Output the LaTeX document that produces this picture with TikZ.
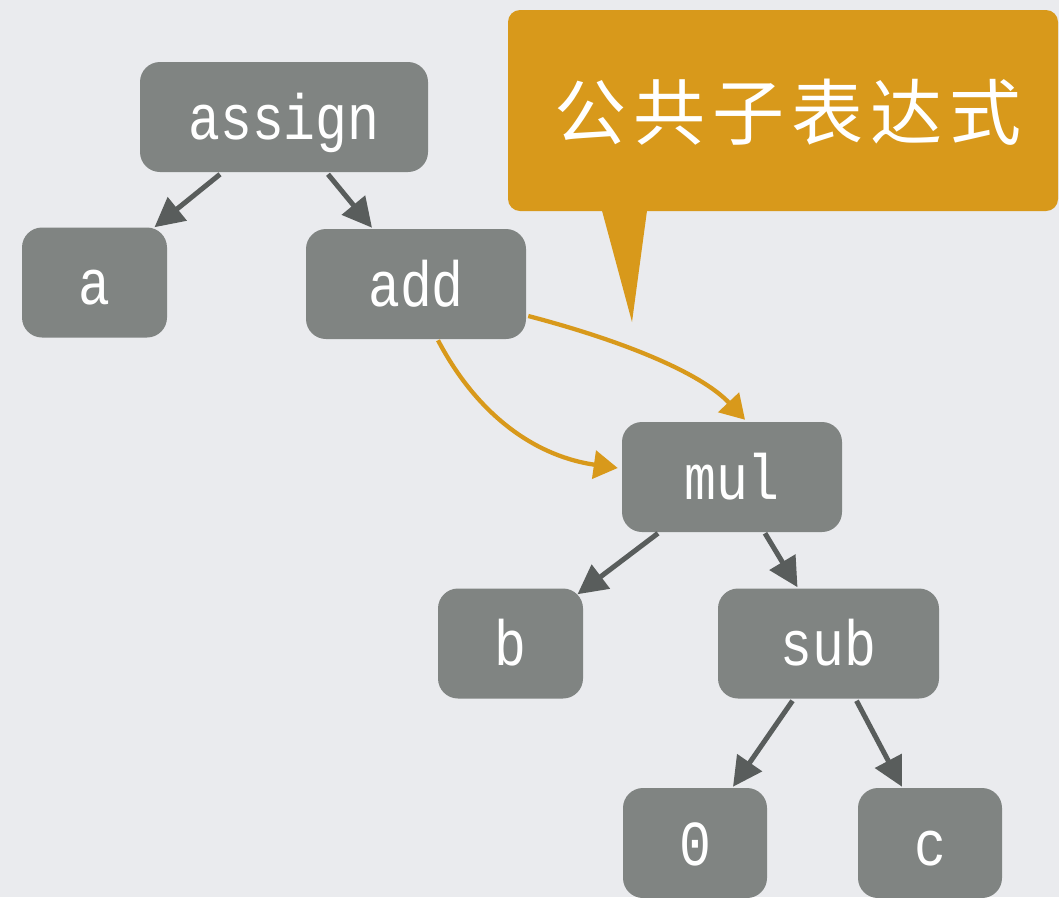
\documentclass[tikz,border=0pt]{standalone}
\usepackage{fontspec}
\setmonofont[FakeStretch=0.83]{Liberation Mono}
\newfontfamily\cjk[LetterSpace=10]{Noto Sans CJK SC}
\usetikzlibrary{arrows.meta,calc}
\definecolor{bgc}{HTML}{EAEBEE}
\definecolor{nodegray}{HTML}{808482}
\definecolor{edgegray}{HTML}{595D5C}
\definecolor{amber}{HTML}{D8991B}
\begin{document}
\begin{tikzpicture}[x=0.75pt,y=-0.75pt,
  tn/.style={fill=nodegray, rounded corners=15pt, text=white,
    font=\ttfamily\fontsize{48}{48}\selectfont,
    minimum height=82.5pt, inner sep=0pt, text height=33pt, text depth=0pt},
  tree/.style={draw=edgegray, line width=3.75pt,
    -{Triangle[length=22pt,width=22pt]}},
  share/.style={draw=amber, line width=3.2pt,
    -{Triangle[length=18pt,width=21pt]}},
  note/.style={fill=amber, rounded corners=9pt,
    minimum width=412.5pt, minimum height=150.75pt, inner sep=0pt}
]
% background
\fill[bgc] (0,0) rectangle (1059,897);
\useasboundingbox (0,0) rectangle (1059,897);

% expression tree
\node[tn, minimum width=216pt]   (assign) at (284,117)   {assign};
\node[tn, minimum width=108.75pt](a)      at (94.5,282.5){a};
\node[tn, minimum width=165pt]   (add)    at (416,284)   {add};
\node[tn, minimum width=165pt]   (mul)    at (732,477)   {mul};
\node[tn, minimum width=108.75pt](b)      at (510.5,643.5){b};
\node[tn, minimum width=165.75pt](sub)    at (828.5,643.5){sub};
\node[tn, minimum width=108pt]   (zero)   at (695,843)   {0};
\node[tn, minimum width=108pt]   (c)      at (930,843)   {c};

\draw[tree] ($(assign.south)+(-64,2)$) -- ($(a.north)+(60,0)$);
\draw[tree] ($(assign.south)+(44,2)$)  -- ($(add.north)+(-44,-1)$);
\draw[tree] ($(mul.south)+(-74,1)$)    -- ($(b.north)+(67,6)$);
\draw[tree] ($(mul.south)+(33,1)$)     -- ($(sub.north)+(-31,-1)$);
\draw[tree] ($(sub.south)+(-36,2)$)    -- ($(zero.north)+(38,-1)$);
\draw[tree] ($(sub.south)+(28,2)$)     -- ($(c.north)+(-28,-1)$);

% shared subexpression: add points to mul twice
\draw[share] ($(add.east)+(2,32)$) .. controls (620,340) and (700,372) .. ($(mul.north)+(13,-2)$);
\draw[share] ($(add.south)+(22,1)$) .. controls (480,420) and (540,457) .. ($(mul.west)+(-4,-9)$);

% callout
\node[note] (callout) at (783,110.5) {};
\node[text=white, font=\cjk\fontsize{54}{54}\selectfont, inner sep=0pt]
  (calltext) at (788,112) {公共子表达式};
\coordinate (tip) at (632,322);
\fill[amber] ($(callout.south)+(-183,-8)$) -- ($(callout.south)+(-135,-8)$) -- (tip) -- cycle;
\end{tikzpicture}
\end{document}
